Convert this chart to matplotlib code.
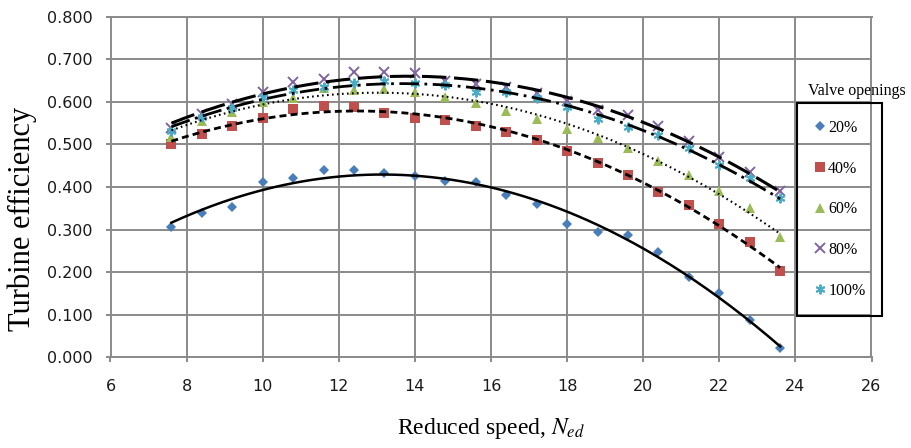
import numpy as np
import matplotlib
matplotlib.use("Agg")
import matplotlib.pyplot as plt

# --- data ---
speed = [7.6, 8.4, 9.2, 10.0, 10.8, 11.6, 12.4, 13.2, 14.0, 14.8, 15.6,
         16.4, 17.2, 18.0, 18.8, 19.6, 20.4, 21.2, 22.0, 22.8, 23.6]

eff_20 = [0.307, 0.338, 0.353, 0.411, 0.422, 0.441, 0.439, 0.433, 0.425, 0.414, 0.412,
          0.381, 0.360, 0.312, 0.295, 0.287, 0.248, 0.189, 0.152, 0.087, 0.022]
eff_40 = [0.500, 0.524, 0.543, 0.563, 0.583, 0.591, 0.589, 0.573, 0.563, 0.558, 0.544,
          0.529, 0.511, 0.485, 0.457, 0.429, 0.389, 0.357, 0.312, 0.271, 0.203]
eff_60 = [0.518, 0.555, 0.577, 0.599, 0.609, 0.632, 0.628, 0.630, 0.624, 0.612, 0.598,
          0.579, 0.559, 0.536, 0.516, 0.491, 0.460, 0.428, 0.391, 0.351, 0.283]
eff_80 = [0.538, 0.572, 0.595, 0.622, 0.646, 0.653, 0.670, 0.669, 0.667, 0.650, 0.642,
          0.634, 0.620, 0.601, 0.581, 0.568, 0.543, 0.507, 0.470, 0.436, 0.391]
eff_100 = [0.532, 0.564, 0.585, 0.611, 0.628, 0.636, 0.644, 0.649, 0.644, 0.640, 0.622,
           0.622, 0.610, 0.587, 0.560, 0.540, 0.521, 0.491, 0.452, 0.420, 0.373]

labels = ["20%", "40%", "60%", "80%", "100%"]
x_ticks = [6, 8, 10, 12, 14, 16, 18, 20, 22, 24, 26]
y_ticks = [0.0, 0.1, 0.2, 0.3, 0.4, 0.5, 0.6, 0.7, 0.8]

# --- styles ---
series = [eff_20, eff_40, eff_60, eff_80, eff_100]
colors = ["#4A7EBB", "#C0504D", "#9BBB59", "#8064A2", "#4BACC6"]
markers = ["D", "s", "^", "x", (6, 2, 0)]
msizes = [5.0, 7.0, 7.0, 6.5, 7.0]
trend_styles = ["-", (0, (2.5, 1.5)), (0, (0.8, 1.6)), (0, (8, 2.5)), (0, (7, 2, 1, 2))]
trend_widths = [1.8, 2.0, 1.5, 2.2, 2.0]

plt.rcParams["mathtext.fontset"] = "stix"
W, H = 911, 448
fig = plt.figure(figsize=(W / 100, H / 100), dpi=100)
ax = fig.add_axes([110.5 / W, (H - 357.3) / H, (871.5 - 110.5) / W, (357.3 - 16.7) / H])

grid_c = "#8a8a8a"
handles = []
for vals, c, m, ms, lab in zip(series, colors, markers, msizes, labels):
    if m == "x" or isinstance(m, tuple):
        h, = ax.plot(speed, vals, linestyle="none", marker=m, ms=ms, mew=1.4,
                     color=c, label=lab, zorder=3)
    else:
        h, = ax.plot(speed, vals, linestyle="none", marker=m, ms=ms, mew=0,
                     color=c, label=lab, zorder=3)
    handles.append(h)

# polynomial trend lines (as in the spreadsheet)
xs = np.linspace(speed[0], speed[-1], 200)
for vals, ls, lw in zip(series, trend_styles, trend_widths):
    coef = np.polyfit(speed, vals, 2)
    ax.plot(xs, np.polyval(coef, xs), color="black", linestyle=ls, lw=lw, zorder=4)

ax.set_xlim(6, 26)
ax.set_ylim(0, 0.8)
ax.set_xticks(x_ticks)
ax.set_yticks(y_ticks)
ax.set_yticklabels([f"{v:.3f}" for v in y_ticks])
ax.grid(True, color=grid_c, lw=1.4)
ax.set_axisbelow(True)
for s in ax.spines.values():
    s.set_color(grid_c)
    s.set_linewidth(1.4)
ax.tick_params(axis="both", direction="out", length=3.8, width=1.4, color=grid_c,
               labelsize=11.5, labelcolor="#1a1a1a")
ax.tick_params(axis="y", pad=9)
ax.tick_params(axis="x", pad=12)

fig.text(22 / W, 1 - 218.5 / H, "Turbine efficiency", rotation=90, ha="center", va="center",
         fontsize=22, family="Liberation Serif")
fig.text(491 / W, 1 - 428 / H, r"Reduced speed, $N_{ed}$", ha="center", va="center",
         fontsize=17, family="Liberation Serif")

leg = fig.legend(handles=handles, loc="upper left", bbox_to_anchor=(797 / W, 1 - 103 / H),
                 borderaxespad=0, frameon=True, fancybox=False, framealpha=1,
                 handlelength=0.8, handletextpad=0.1, labelspacing=1.55, borderpad=1.05,
                 prop={"family": "Liberation Serif", "size": 11.5})
leg.get_frame().set_edgecolor("black")
leg.get_frame().set_linewidth(1.5)
leg.get_frame().set_facecolor("none")
fig.text(808 / W, 1 - 91 / H, "Valve openings", ha="left", va="center",
         fontsize=11.5, family="Liberation Serif")

fig.savefig("out.png", dpi=100)
